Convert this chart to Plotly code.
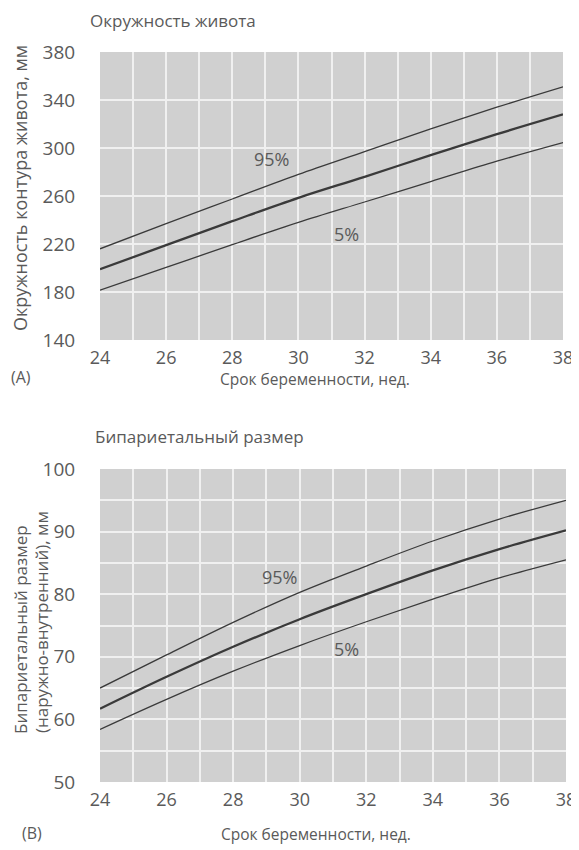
import plotly.graph_objects as go
from plotly.subplots import make_subplots

# gestational age, weeks
weeks = [24, 26, 28, 30, 32, 34, 36, 38]

# (A) abdominal circumference, mm
ac_p95 = [216, 237, 257.5, 278, 297, 316, 334, 351]
ac_p50 = [199, 219, 239, 258.5, 276, 294, 311.5, 328]
ac_p5 = [181.5, 200.5, 219.5, 238, 255, 272, 289, 304.5]

# (B) biparietal diameter, mm
bpd_p95 = [65, 70.3, 75.5, 80.3, 84.5, 88.5, 92, 95]
bpd_p50 = [61.7, 66.8, 71.6, 76, 80, 83.8, 87.2, 90.2]
bpd_p5 = [58.4, 63.2, 67.7, 71.8, 75.6, 79.2, 82.6, 85.5]

x_ticks = [24, 26, 28, 30, 32, 34, 36, 38]
ac_ticks = [140, 180, 220, 260, 300, 340, 380]
bpd_ticks = [50, 60, 70, 80, 90, 100]

FONT = "Open Sans"
TXT = "#5a5a5a"
LINE = "#3a3a3a"
GRID = "#f0f0f0"

# the page body has an 8px margin, so the figure is drawn 8px smaller
OFF = 8
W, H = 579 - OFF, 850 - OFF


def px(x):
    return (x - OFF) / W


def py(y):
    return 1 - (y - OFF) / H


fig = make_subplots(rows=2, cols=1)

# Chart A
fig.add_trace(go.Scatter(x=weeks, y=ac_p95, mode="lines", line=dict(color=LINE, width=1.3, shape="spline")), row=1, col=1)
fig.add_trace(go.Scatter(x=weeks, y=ac_p50, mode="lines", line=dict(color=LINE, width=2.3, shape="spline")), row=1, col=1)
fig.add_trace(go.Scatter(x=weeks, y=ac_p5, mode="lines", line=dict(color=LINE, width=1.3, shape="spline")), row=1, col=1)

# Chart B
fig.add_trace(go.Scatter(x=weeks, y=bpd_p95, mode="lines", line=dict(color=LINE, width=1.3, shape="spline")), row=2, col=1)
fig.add_trace(go.Scatter(x=weeks, y=bpd_p50, mode="lines", line=dict(color=LINE, width=2.3, shape="spline")), row=2, col=1)
fig.add_trace(go.Scatter(x=weeks, y=bpd_p5, mode="lines", line=dict(color=LINE, width=1.3, shape="spline")), row=2, col=1)

common_x = dict(range=[24, 38], tickvals=list(range(24, 39)),
                ticktext=[str(w) if w in x_ticks else "" for w in range(24, 39)],
                showgrid=True, gridcolor=GRID, gridwidth=1.5, zeroline=False,
                ticks="outside", ticklen=1, tickcolor="rgba(0,0,0,0)", automargin=False,
                tickfont=dict(family=FONT, size=18, color=TXT), showline=False)

fig.update_xaxes(common_x)
fig.update_xaxes(domain=[px(100), px(563)], row=1, col=1)
fig.update_xaxes(domain=[px(100), px(566)], row=2, col=1)

fig.update_yaxes(range=[140, 380], tickvals=ac_ticks, showgrid=True, gridcolor=GRID,
                 gridwidth=1.5, zeroline=False, ticks="outside", ticklen=20, automargin=False,
                 tickcolor="rgba(0,0,0,0)", tickfont=dict(family=FONT, size=19, color=TXT),
                 domain=[py(340), py(52)], row=1, col=1)
fig.update_yaxes(range=[50, 100], tickvals=bpd_ticks, zeroline=False, ticks="outside",
                 ticklen=20, automargin=False,
                 tickcolor="rgba(0,0,0,0)", tickfont=dict(family=FONT, size=19, color=TXT),
                 domain=[py(782), py(469)], row=2, col=1)
# grid every 5 mm for chart B
fig.update_yaxes(minor=dict(dtick=5, showgrid=True, gridcolor=GRID, gridwidth=1.5),
                 showgrid=True, gridcolor=GRID, gridwidth=1.5, row=2, col=1)

notes = [
    dict(x=29.2, y=291, xref="x", yref="y", text="95%"),
    dict(x=31.45, y=228.5, xref="x", yref="y", text="5%"),
    dict(x=29.4, y=82.7, xref="x2", yref="y2", text="95%"),
    dict(x=31.4, y=71.3, xref="x2", yref="y2", text="5%"),
]
for n in notes:
    fig.add_annotation(showarrow=False, font=dict(family=FONT, size=18, color=TXT), **n)

paper_txt = [
    dict(x=px(88), y=py(20), text="Окружность живота", xanchor="left", size=17),
    dict(x=px(315), y=py(379), text="Срок беременности, нед.", xanchor="center", size=15.5),
    dict(x=px(9), y=py(377), text="(A)", xanchor="left", size=16),
    dict(x=px(93), y=py(436), text="Бипариетальный размер", xanchor="left", size=17),
    dict(x=px(316), y=py(834), text="Срок беременности, нед.", xanchor="center", size=15.5),
    dict(x=px(20), y=py(833), text="(B)", xanchor="left", size=16),
]
for t in paper_txt:
    size = t.pop("size")
    fig.add_annotation(xref="paper", yref="paper", showarrow=False, yanchor="middle",
                       font=dict(family=FONT, size=size, color=TXT), **t)

# rotated axis titles
y_titles = [
    dict(x=20, y=188, text="Окружность контура живота, мм", size=18),
    dict(x=20, y=630, text="Бипариетальный размер", size=17),
    dict(x=41, y=622, text="(наружно-внутренний), мм", size=17),
]
for t in y_titles:
    fig.add_annotation(xref="paper", yref="paper", x=px(t["x"]), y=py(t["y"]),
                       xanchor="center", yanchor="middle", text=t["text"],
                       textangle=-90, showarrow=False,
                       font=dict(family=FONT, size=t["size"], color=TXT))

fig.update_layout(width=W, height=H, margin=dict(l=0, r=0, t=0, b=0),
                  paper_bgcolor="white", plot_bgcolor="#d0d0d0", showlegend=False)

fig.write_html("out.html")
